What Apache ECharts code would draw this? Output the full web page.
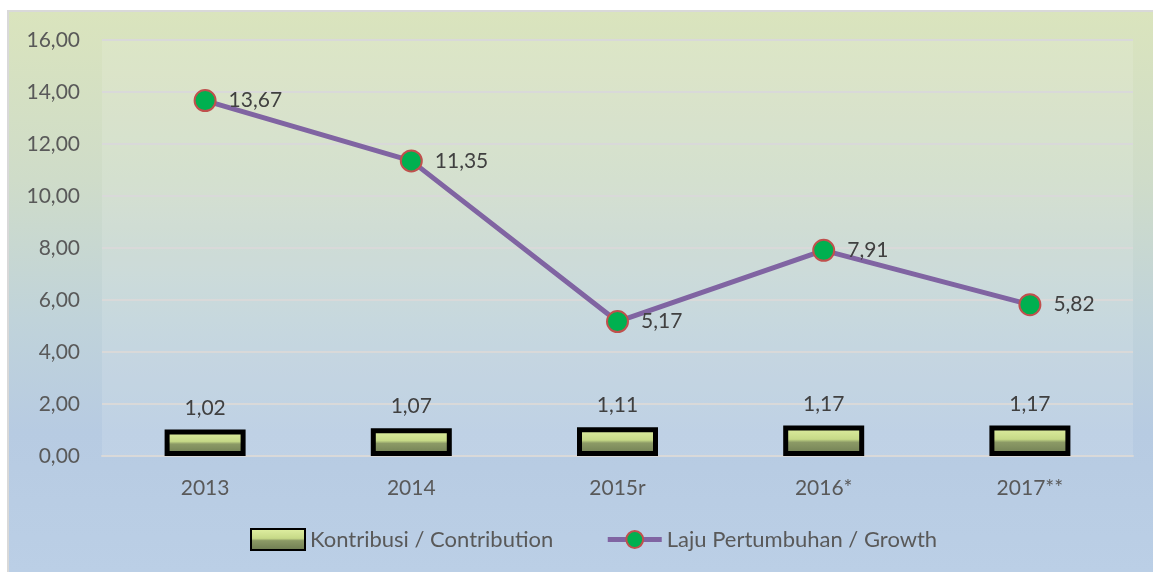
<!DOCTYPE html>
<html lang="id">
<head>
<meta charset="UTF-8">
<title>Kontribusi dan Laju Pertumbuhan</title>
<script src="https://cdn.jsdelivr.net/npm/echarts@6/dist/echarts.min.js"></script>
<style>
  html, body { margin: 0; padding: 0; background: #ffffff; }
  #bg {
    position: absolute; left: 7px; top: 10px; width: 1146px; height: 562px;
    border-left: 2px solid #d9d9d9; border-top: 2px solid #d9d9d9;
    box-sizing: border-box;
    background: linear-gradient(to bottom, #dae4bd 0%, #cfdcc9 30%, #c0d3da 55%, #b7cbe2 75%, #bbcfe6 100%);
  }
  #chart { position: absolute; left: 0; top: 0; width: 1153px; height: 572px; }
</style>
</head>
<body>
<div id="bg"></div>
<div id="chart"></div>
<script>
  // data
  const years = ['2013', '2014', '2015r', '2016*', '2017**'];
  const contribution = [1.02, 1.07, 1.11, 1.17, 1.17];
  const growth = [13.67, 11.35, 5.17, 7.91, 5.82];

  const fmt = v => Number(v).toFixed(2).replace('.', ',');
  const font = 'Lato, "Open Sans", sans-serif';

  var myChart = echarts.init(document.getElementById('chart'));
  var option = {
    animation: false,
    textStyle: { fontFamily: font },
    grid: {
      left: 102, right: 20, top: 40, bottom: 116,
      show: true, backgroundColor: 'rgba(255,255,255,0.12)', borderWidth: 0
    },
    legend: {
      bottom: 16,
      left: 245,
      itemGap: 52,
      itemWidth: 54,
      itemHeight: 21,
      textStyle: { fontSize: 22, color: '#595959', fontFamily: font },
      data: [
        { name: 'Kontribusi / Contribution', icon: 'rect' },
        { name: 'Laju Pertumbuhan / Growth', lineStyle: { width: 5 } }
      ]
    },
    xAxis: {
      type: 'category',
      data: years,
      axisLine: { show: true, lineStyle: { color: '#d9d9d9', width: 2 } },
      axisTick: { show: false },
      axisLabel: { fontSize: 21, color: '#595959', margin: 22 }
    },
    yAxis: {
      type: 'value',
      min: 0, max: 16, interval: 2,
      axisLine: { show: false },
      axisTick: { show: false },
      splitLine: { lineStyle: { color: '#d9d9d9', width: 2 } },
      axisLabel: { fontSize: 21, color: '#595959', margin: 22, formatter: fmt }
    },
    series: [
      {
        name: 'Kontribusi / Contribution',
        type: 'bar',
        data: contribution,
        barWidth: 81,
        itemStyle: {
          color: {
            type: 'linear', x: 0, y: 0, x2: 0, y2: 1,
            colorStops: [
              { offset: 0, color: '#e2f1a4' },
              { offset: 0.45, color: '#c6d987' },
              { offset: 0.55, color: '#8c9a66' },
              { offset: 1, color: '#6c7a50' }
            ]
          },
          borderColor: '#000000',
          borderWidth: 5
        },
        label: {
          show: true, position: 'top', distance: 11,
          fontSize: 21, color: '#404040', formatter: p => fmt(p.value)
        },
        z: 2
      },
      {
        name: 'Laju Pertumbuhan / Growth',
        type: 'line',
        data: growth,
        symbol: 'circle',
        symbolSize: 21,
        lineStyle: { color: '#8064a2', width: 5 },
        itemStyle: { color: '#00b050', borderColor: '#c0504d', borderWidth: 2 },
        label: {
          show: true, position: 'right', distance: 12,
          fontSize: 21, color: '#404040', formatter: p => fmt(p.value)
        },
        z: 3
      }
    ]
  };
  myChart.setOption(option);
</script>
</body>
</html>
